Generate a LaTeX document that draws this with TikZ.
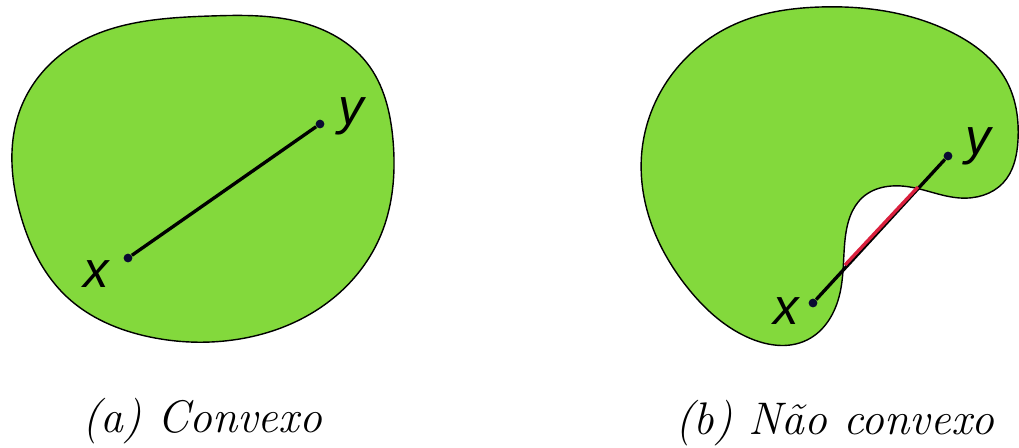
\documentclass[tikz,border=0pt]{standalone}
\usepackage{fontspec}
\newfontfamily\lblfont{Liberation Sans}
\usepackage{tikz}
\usetikzlibrary{calc}
\usetikzlibrary{positioning}
\usetikzlibrary{hobby}
\definecolor{blobgreen}{RGB}{131,217,60}
\definecolor{ptblue}{RGB}{10,10,50}
\definecolor{segred}{RGB}{218,32,62}
\tikzstyle{blob} = [draw=black, line width=0.8pt, fill=blobgreen]
\tikzstyle{pt} = [circle, fill=ptblue, inner sep=0pt, minimum size=5pt]
\tikzstyle{seg} = [-, line width=1.9pt, draw=black]
\tikzstyle{lbl} = [font=\lblfont\itshape\fontsize{29}{30}\selectfont, inner sep=0pt]
\tikzstyle{caption} = [font=\itshape\fontsize{26}{30}\selectfont, inner sep=0pt]

\begin{document}
\begin{tikzpicture}[x=0.02cm, y=-0.02cm]
\useasboundingbox (0,0) rectangle (1019,447);
% (a) convex set
\draw [blob] plot [closed hobby] coordinates {
  (210,16) (300,22) (367,63) (393,140)
  (380,237) (327,303) (233,340) (150,337)
  (67,297) (20,213) (20,110) (67,50)};
\node [pt] (xa) at (128,258) {};
\node [pt] (ya) at (320,124) {};
\draw [seg] (xa) to (ya);
\node [lbl] (lxa) at (96,274) {x};
\node [lbl] (lya) at (351,116) {y};
% (b) non convex set
\draw [blob] plot [closed hobby] coordinates {
  (820,7) (953,33) (1006,80) (1018,140) (1003,183) (960,198)
  (910,187) (863,197) (845,240) (840,293) (807,340) (747,337)
  (687,287) (650,220) (642,150) (670,77) (740,22)};
\node [pt] (xb) at (813,303) {};
\node [pt] (yb) at (948,156) {};
\coordinate (inb) at (845,265);
\coordinate (outb) at (918,187);
\draw [seg] (xb) to (yb);
\draw [seg, draw=segred] (inb) to (outb);
\node [lbl] (lxb) at (786,311) {x};
\node [lbl] (lyb) at (978,146) {y};
% captions
\node [caption] (capa) at (202,421) {(a) Convexo};
\node [caption] (capb) at (835,423) {(b) Não convexo};
\end{tikzpicture}
\end{document}
